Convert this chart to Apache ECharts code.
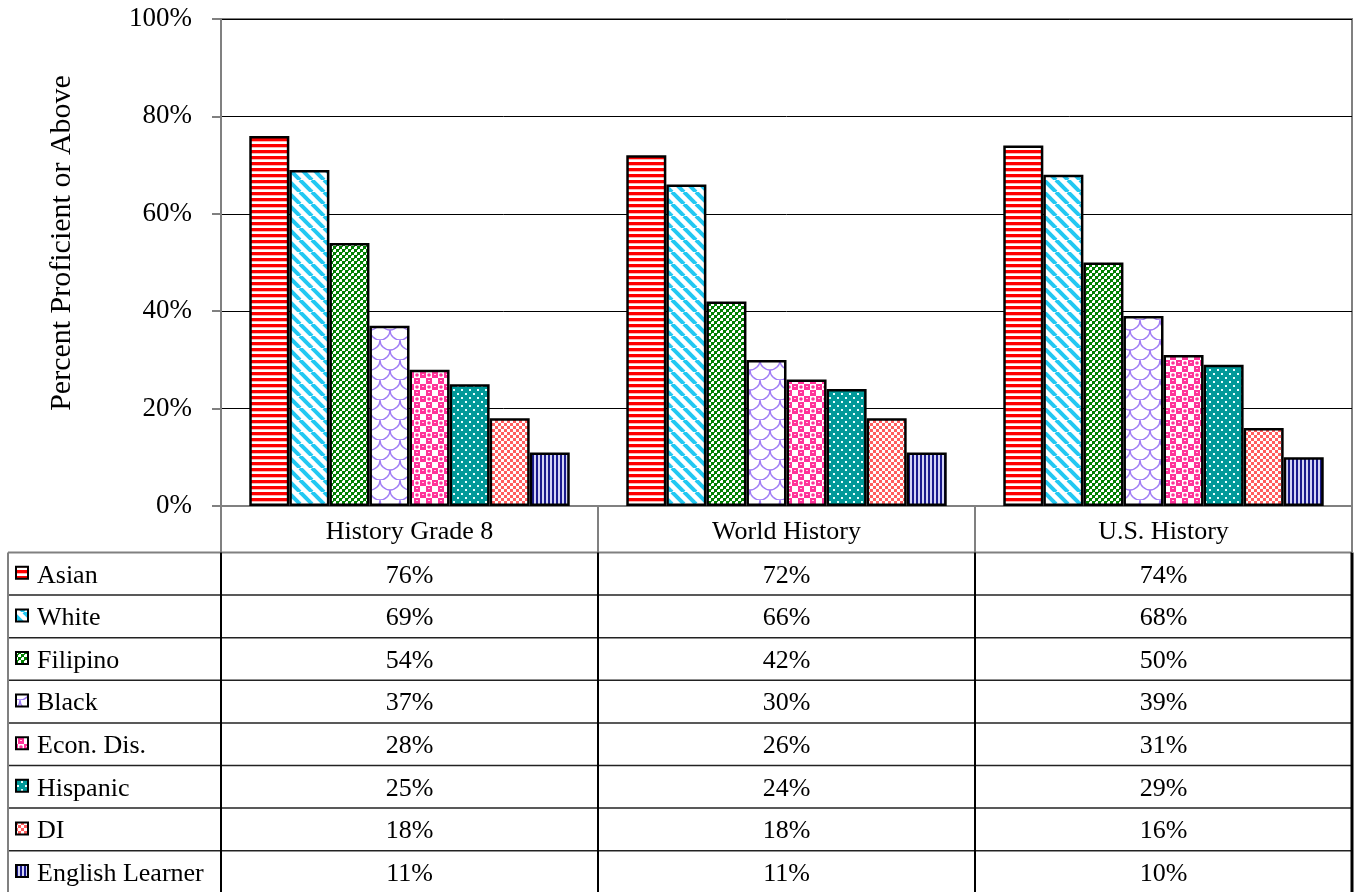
<!DOCTYPE html>
<html>
<head>
<meta charset="utf-8">
<script src="https://cdn.jsdelivr.net/npm/echarts@6/dist/echarts.min.js"></script>
<style>
  html, body { margin: 0; padding: 0; background: #fff; }
  #chart { width: 1359px; height: 892px; }
</style>
</head>
<body>
<div id="chart"></div>
<script>
// data
const categories = ['History Grade 8', 'World History', 'U.S. History'];
const groups = ['Asian', 'White', 'Filipino', 'Black', 'Econ. Dis.', 'Hispanic', 'DI', 'English Learner'];
const asian = [76, 72, 74];
const white = [69, 66, 68];
const filipino = [54, 42, 50];
const black = [37, 30, 39];
const econDis = [28, 26, 31];
const hispanic = [25, 24, 29];
const di = [18, 18, 16];
const englishLearner = [11, 11, 10];
const yTicks = [0, 20, 40, 60, 80, 100];

const values = [asian, white, filipino, black, econDis, hispanic, di, englishLearner];
const FONT = '"Liberation Serif", "Times New Roman", serif';

// small canvas tiles used as fill patterns
function tile(w, h, draw) {
  let c = document.createElement('canvas');
  c.width = w;
  c.height = h;
  let ctx = c.getContext('2d');
  draw(ctx, w, h);
  return { image: c, repeat: 'repeat' };
}

const patterns = [
  // Asian: horizontal red stripes
  tile(6, 6, (ctx) => {
    ctx.fillStyle = '#fff'; ctx.fillRect(0, 0, 6, 6);
    ctx.fillStyle = '#ff0000'; ctx.fillRect(0, 0, 6, 3);
    ctx.fillStyle = '#ffb3b3'; ctx.fillRect(0, 3, 6, 1);
  }),
  // White: cyan diagonal stripes
  tile(12, 12, (ctx) => {
    ctx.fillStyle = '#fff'; ctx.fillRect(0, 0, 12, 12);
    ctx.strokeStyle = '#22c8f2'; ctx.lineWidth = 4;
    [-12, 0, 12].forEach(o => {
      ctx.beginPath(); ctx.moveTo(o, 0); ctx.lineTo(o + 12, 12); ctx.stroke();
    });
  }),
  // Filipino: green checker
  tile(6, 6, (ctx) => {
    ctx.fillStyle = '#008000'; ctx.fillRect(0, 0, 6, 6);
    ctx.fillStyle = '#fff';
    ctx.fillRect(0, 0, 3, 3); ctx.fillRect(3, 3, 3, 3);
    ctx.fillStyle = '#2e8f2e';
    ctx.fillRect(0, 0, 1, 1); ctx.fillRect(3, 3, 1, 1);
  }),
  // Black: purple scales
  tile(20, 20, (ctx) => {
    ctx.fillStyle = '#fff'; ctx.fillRect(0, 0, 20, 20);
    ctx.strokeStyle = '#a07cf5'; ctx.lineWidth = 1.4;
    ctx.beginPath(); ctx.arc(10, 0, 10, 0, Math.PI); ctx.stroke();
    ctx.beginPath(); ctx.arc(0, 10, 10, 0, Math.PI); ctx.stroke();
    ctx.beginPath(); ctx.arc(20, 10, 10, 0, Math.PI); ctx.stroke();
    ctx.beginPath(); ctx.arc(10, 20, 10, 0, Math.PI); ctx.stroke();
  }),
  // Econ. Dis.: pink with white squares and round highlights
  tile(12, 12, (ctx) => {
    ctx.fillStyle = '#ff3399'; ctx.fillRect(0, 0, 12, 12);
    ctx.fillStyle = '#fff';
    ctx.fillRect(6, 0, 6, 6); ctx.fillRect(0, 6, 6, 6);
    ctx.fillStyle = '#ff3399';
    ctx.beginPath(); ctx.arc(9, 3, 1.8, 0, Math.PI * 2); ctx.fill();
    ctx.fillStyle = '#ffd0e6';
    ctx.fillRect(2, 2, 2, 1); ctx.fillRect(8, 8, 2, 1);
  }),
  // Hispanic: teal with white dots
  tile(8, 8, (ctx) => {
    ctx.fillStyle = '#009999'; ctx.fillRect(0, 0, 8, 8);
    ctx.fillStyle = '#e8ffff';
    ctx.fillRect(1, 1, 2, 2); ctx.fillRect(5, 5, 2, 2);
  }),
  // DI: salmon checker
  tile(6, 6, (ctx) => {
    ctx.fillStyle = '#ff5f5f'; ctx.fillRect(0, 0, 6, 6);
    ctx.fillStyle = '#fff';
    ctx.fillRect(0, 0, 3, 3); ctx.fillRect(3, 3, 3, 3);
  }),
  // English Learner: navy vertical stripes
  tile(4, 4, (ctx) => {
    ctx.fillStyle = '#d4d4f4'; ctx.fillRect(0, 0, 4, 4);
    ctx.fillStyle = '#1a1a8c'; ctx.fillRect(0, 0, 2, 4);
  })
];

let myChart = echarts.init(document.getElementById('chart'));

let option = {
  animation: false,
  textStyle: { fontFamily: FONT },
  grid: {
    left: 221, top: 19, right: 7, bottom: 386,
    show: true, borderColor: '#808080', borderWidth: 2
  },
  xAxis: {
    type: 'category',
    data: categories,
    axisLine: { lineStyle: { color: '#808080', width: 2 } },
    axisTick: { show: true, interval: 0, length: 46, lineStyle: { color: '#808080', width: 2 } },
    axisLabel: { color: '#000', fontSize: 26, fontFamily: FONT, margin: 26, verticalAlign: 'middle' }
  },
  yAxis: {
    type: 'value',
    min: yTicks[0],
    max: yTicks[yTicks.length - 1],
    interval: 20,
    axisLine: { show: true, lineStyle: { color: '#808080', width: 2 } },
    axisTick: { show: true, length: 9, lineStyle: { color: '#808080', width: 2 } },
    axisLabel: { color: '#000', fontSize: 27, fontFamily: FONT, margin: 29, formatter: '{value}%' },
    splitLine: { lineStyle: { color: '#000', width: 1 } }
  },
  series: groups.map((g, i) => ({
    name: g,
    type: 'bar',
    data: values[i],
    barGap: '0%',
    barCategoryGap: '15%',
    itemStyle: { color: patterns[i], borderColor: '#000', borderWidth: 2.5 }
  }))
};

myChart.setOption(option);

// y axis title and the data table under the plot
const tableLeft = 8, tableRight = 1352, firstCol = 221;
const headBottom = 552.5, rowH = 42.6;
let graphic = [];
graphic.push({
  type: 'text', silent: true, x: 62, y: 243, rotation: Math.PI / 2,
  style: { text: 'Percent Proficient or Above', fill: '#000', font: '30px ' + FONT, textAlign: 'center', textVerticalAlign: 'middle', align: 'center', verticalAlign: 'middle' }
});
let line = (x1, y1, x2, y2, color, w) => graphic.push({
  type: 'line', silent: true,
  shape: { x1: x1, y1: y1, x2: x2, y2: y2 },
  style: { stroke: color, lineWidth: w }
});
let bottom = 892;
let colEdges = [firstCol];
categories.forEach((c, i) => {
  let x = myChart.convertToPixel({ xAxisIndex: 0 }, i);
  colEdges.push(x + (x - colEdges[colEdges.length - 1]));
});
line(tableLeft, headBottom, tableRight, headBottom, '#808080', 2);
for (let k = 1; k <= groups.length; k++) {
  line(tableLeft, headBottom + k * rowH, tableRight, headBottom + k * rowH, '#222', 1.5);
}
line(tableLeft, headBottom, tableLeft, bottom, '#808080', 2);
colEdges.forEach((x, j) => {
  line(x, headBottom, x, bottom, '#000', j === colEdges.length - 1 ? 3 : 2);
});
groups.forEach((g, i) => {
  let cy = headBottom + rowH * (i + 0.5);
  graphic.push({
    type: 'rect', silent: true,
    shape: { x: 16, y: cy - 7, width: 12, height: 12 },
    style: { fill: patterns[i], stroke: '#000', lineWidth: 2 }
  });
  graphic.push({
    type: 'text', silent: true, x: 37, y: cy + 2,
    style: { text: g, fill: '#000', font: '26px ' + FONT, textAlign: 'left', textVerticalAlign: 'middle', align: 'left', verticalAlign: 'middle' }
  });
  categories.forEach((c, j) => {
    let cx = myChart.convertToPixel({ xAxisIndex: 0 }, j);
    graphic.push({
      type: 'text', silent: true, x: cx, y: cy + 2,
      style: { text: values[i][j] + '%', fill: '#000', font: '26px ' + FONT, textAlign: 'center', textVerticalAlign: 'middle', align: 'center', verticalAlign: 'middle' }
    });
  });
});
myChart.setOption({ graphic: graphic });
</script>
</body>
</html>
